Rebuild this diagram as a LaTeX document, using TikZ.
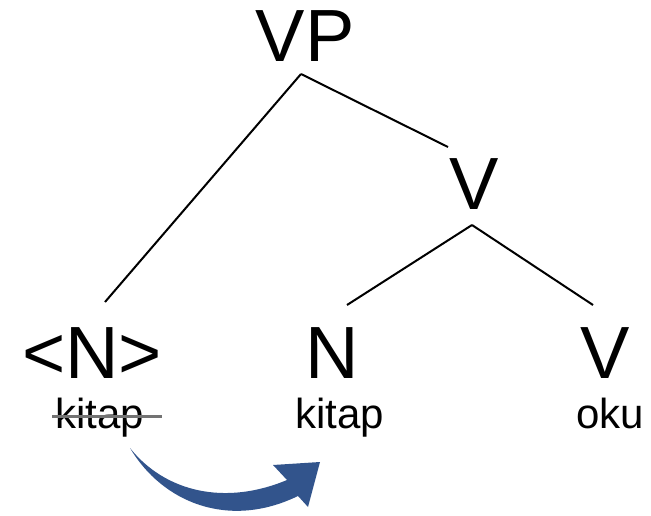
\documentclass[tikz,border=0pt]{standalone}
\usepackage{fontspec}
\setmainfont{Liberation Sans}
\definecolor{arrowblue}{RGB}{50,84,140}
\definecolor{strikegray}{RGB}{115,115,115}
\begin{document}
\begin{tikzpicture}[x=1pt,y=-1pt,
  big/.style={font=\fontsize{74}{74}\selectfont, inner sep=0pt, anchor=base},
  small/.style={font=\fontsize{42}{42}\selectfont, inner sep=0pt, anchor=base},
  branch/.style={line width=2pt, black}]
\useasboundingbox (0,0) rectangle (651,516);
% labels
\node[big] (VP) at (305,62) {VP};
\node[big] (Vbar) at (474,210) {V};
\node[big] (Ntrace) at (92,378) {<N>};
\node[big] (N) at (332,378) {N};
\node[big] (V) at (605,378) {V};
\node[small] (kt) at (100,428) {kitap};
\node[small] (k) at (340,428) {kitap};
\node[small] (oku) at (610,428) {oku};
% branch points
\coordinate (VPb) at (301,74);
\coordinate (Vbart) at (448,147);
\coordinate (Ntop1) at (105,302);
\coordinate (Vbarb) at (472,225);
\coordinate (Ntop2) at (347,305);
\coordinate (Vtop) at (593,305);
\draw[branch] (VPb) -- (Ntop1);
\draw[branch] (VPb) -- (Vbart);
\draw[branch] (Vbarb) -- (Ntop2);
\draw[branch] (Vbarb) -- (Vtop);
% strike through
\coordinate (s1) at (52,416);
\coordinate (s2) at (162,416);
\draw[strikegray, line width=3pt] (s1) -- (s2);
% movement arrow
\fill[arrowblue] (130,448) .. controls (165,492) and (225,506) .. (287,480)
  -- (273,465) -- (320,462) -- (308,507) -- (298,496)
  .. controls (228,530) and (162,502) .. (130,448) -- cycle;
\end{tikzpicture}
\end{document}
